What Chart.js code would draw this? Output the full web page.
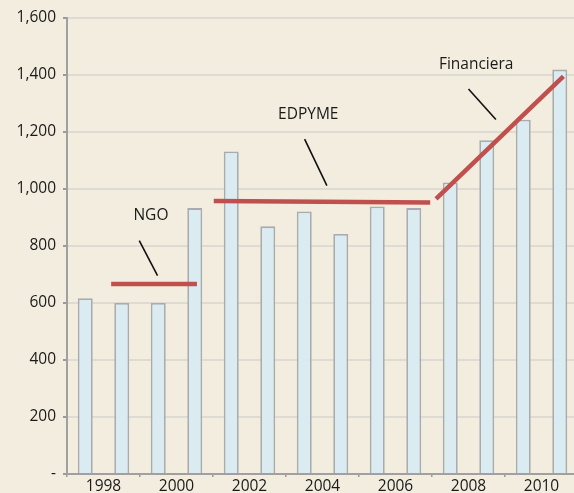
<!DOCTYPE html>
<html>
<head>
<meta charset="utf-8">
<script src="https://cdn.jsdelivr.net/npm/chart.js@4/dist/chart.umd.min.js"></script>
<style>
html,body{margin:0;padding:0;background:#f3eddf;overflow:hidden;}
#wrap{width:578px;height:493px;}
</style>
</head>
<body>
<div id="wrap"><canvas id="loanChart"></canvas></div>
<script>
// Bars: one per period, labels every second bar
const periods = ["1997","1998","1999","2000","2001","2002","2003","2004","2005","2006","2007","2008","2009","2010"];
const values = [617, 600, 600, 933, 1132, 869, 921, 842, 939, 933, 1023, 1171, 1243, 1419];
const tickLabels = ["1998","2000","2002","2004","2006","2008","2010"];

// trend segments, x in bar index units
const ngoLine = [{x:0.71,y:667},{x:3.06,y:667}];
const edpymeLine = [{x:3.52,y:958},{x:9.45,y:953}];
const financieraLine = [{x:9.61,y:965},{x:13.1,y:1395}];

// callout pointers
const ngoPointer = [{x:1.48,y:819},{x:1.98,y:696}];
const edpymePointer = [{x:6.01,y:1175},{x:6.62,y:1012}];
const financieraPointer = [{x:10.5,y:1351},{x:11.25,y:1244}];

const calloutNames = ["NGO","EDPYME","Financiera"];
const calloutX = [1.8, 6.11, 10.71];
const calloutY = [906, 1261, 1435];

const FONT = "'Open Sans', 'Liberation Sans', sans-serif";

function trend(data){
return {type:'line',data:data,xAxisID:'xl',borderColor:'#c0504d',borderWidth:4.5,
pointRadius:0,borderCapStyle:'butt',order:0};
}
function pointer(data){
return {type:'line',data:data,xAxisID:'xl',borderColor:'#111111',borderWidth:1.6,
pointRadius:0,order:0};
}

const calloutText = {
id:'calloutText',
afterDatasetsDraw(chart){
const c = chart.ctx;
const sx = chart.scales.xl, sy = chart.scales.y;
c.save();
c.font = '15.5px ' + FONT;
c.fillStyle = '#1a1a1a';
c.textAlign = 'center';
c.textBaseline = 'middle';
calloutNames.forEach((t,i)=>{
c.fillText(t, sx.getPixelForValue(calloutX[i]), sy.getPixelForValue(calloutY[i]));
});
c.restore();
}
};

new Chart(document.getElementById('loanChart'),{
data:{
labels:periods,
datasets:[
{type:'bar',data:values,xAxisID:'x',backgroundColor:'#daecf2',borderColor:'#a9abae',borderWidth:1.8,
categoryPercentage:1,barPercentage:0.41,grouped:false,order:10},
trend(ngoLine),trend(edpymeLine),trend(financieraLine),
pointer(ngoPointer),pointer(edpymePointer),pointer(financieraPointer)
]
},
options:{
responsive:true,
maintainAspectRatio:false,
animation:false,
devicePixelRatio:1,
layout:{padding:{top:18,left:0,right:0,bottom:0}},
plugins:{legend:{display:false},tooltip:{enabled:false}},
scales:{
x:{type:'category',display:false,offset:true},
xl:{type:'linear',display:false,min:-0.5,max:13.5},
x2:{
type:'category',
labels:tickLabels,
position:'bottom',
offset:true,
grid:{offset:true,drawOnChartArea:false,tickLength:3,tickColor:'#9a9a9a',lineWidth:1.5},
border:{color:'#a0a0a0',width:2},
ticks:{color:'#1a1a1a',font:{family:FONT,size:15.5},padding:0,maxRotation:0,autoSkip:false},
afterFit(s){s.height = 19;}
},
y:{
min:0,max:1600,
grid:{color:'#dedbd3',lineWidth:2,tickLength:4,tickColor:'#9a9a9a'},
border:{color:'#a0a0a0',width:2},
ticks:{
stepSize:200,
color:'#1a1a1a',
padding:7,
font:{family:FONT,size:15.5},
callback:v => v === 0 ? '-' : v.toLocaleString('en-US')
},
afterFit(s){s.width = 67;}
}
}
},
plugins:[calloutText]
});
</script>
</body>
</html>
